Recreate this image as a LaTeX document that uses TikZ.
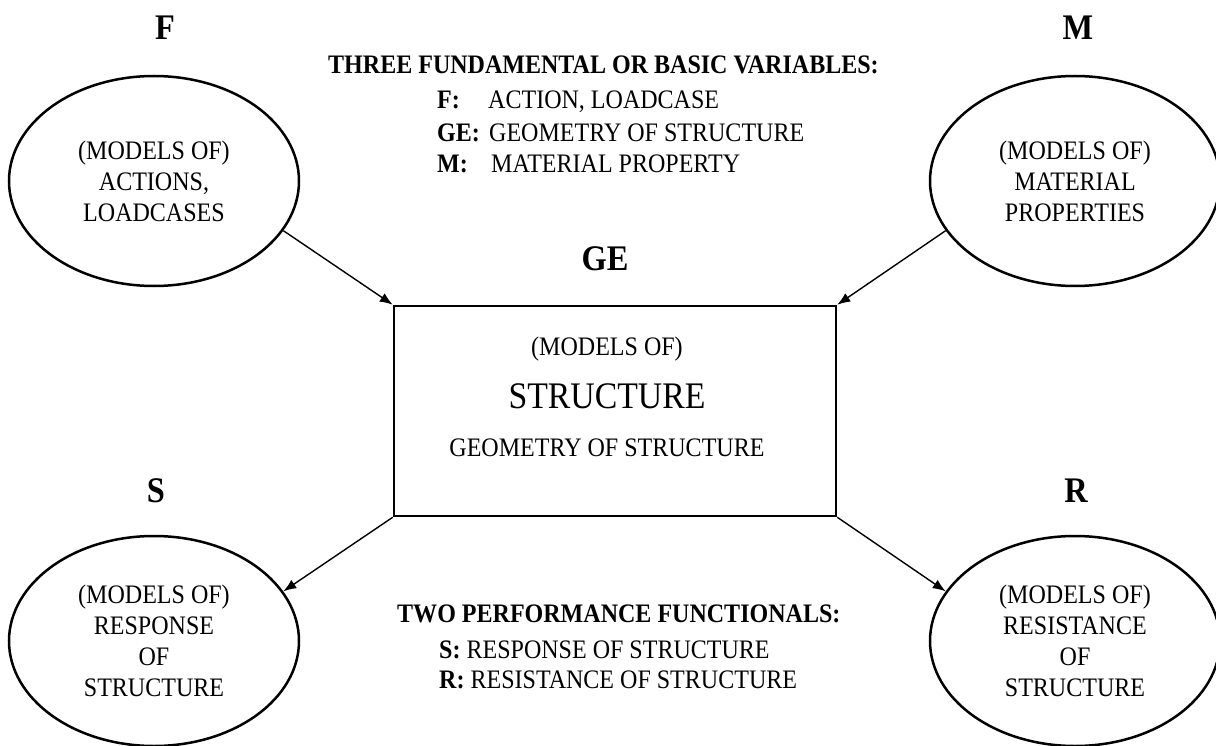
\documentclass[tikz,border=0pt]{standalone}
\usepackage{fontspec}
\setmainfont{Liberation Serif}[FakeStretch=0.9]
\usetikzlibrary{shapes.geometric,arrows.meta}
\begin{document}
\begin{tikzpicture}[x=1pt,y=-1pt,
  ell/.style={draw,ellipse,line width=2.5pt,minimum width=290pt,minimum height=210pt,inner sep=0pt,align=center,font=\fontsize{26.7}{31}\selectfont},
  boxst/.style={draw,rectangle,line width=2.5pt,minimum width=442pt,minimum height=210pt,inner sep=0pt},
  lab/.style={font=\fontsize{36}{40}\selectfont\bfseries,anchor=base,inner sep=0pt},
  txt/.style={font=\fontsize{26.7}{31}\selectfont,anchor=base west,inner sep=0pt},
  btxt/.style={font=\fontsize{26.7}{31}\selectfont\bfseries,anchor=base west,inner sep=0pt},
  ctxt/.style={font=\fontsize{26.7}{31}\selectfont,anchor=base,inner sep=0pt},
  arr/.style={-{Latex[length=13pt,width=10pt]},line width=1.4pt}
]
\useasboundingbox (0,0) rectangle (1216,746);

% ellipses
\node[ell] (F) at (154,181) {(MODELS OF)\\ACTIONS,\\LOADCASES};
\node[ell] (M) at (1075,181) {(MODELS OF)\\MATERIAL\\PROPERTIES};
\node[ell] (S) at (154,641) {(MODELS OF)\\RESPONSE\\OF\\STRUCTURE};
\node[ell] (R) at (1075,641) {(MODELS OF)\\RESISTANCE\\OF\\STRUCTURE};

% central box
\node[boxst] (box) at (615,411) {};
\node[ctxt] (b1) at (607,355) {(MODELS OF)};
\node[ctxt,font=\fontsize{37.5}{40}\selectfont] (b2) at (607,408) {STRUCTURE};
\node[ctxt] (b3) at (607,456) {GEOMETRY OF STRUCTURE};

% big labels
\node[lab] (lF) at (165,40) {F};
\node[lab] (lM) at (1078,40) {M};
\node[lab] (lGE) at (605,271) {GE};
\node[lab] (lS) at (156,502) {S};
\node[lab] (lR) at (1076,502) {R};

% top legend
\node[btxt] (t0) at (328,74) {THREE FUNDAMENTAL OR BASIC VARIABLES:};
\node[btxt] (t1k) at (437,109) {F:};
\node[txt] (t1) at (488,109) {ACTION, LOADCASE};
\node[btxt] (t2k) at (437,142) {GE:};
\node[txt] (t2) at (489,142) {GEOMETRY OF STRUCTURE};
\node[btxt] (t3k) at (437,173) {M:};
\node[txt] (t3) at (491,173) {MATERIAL PROPERTY};

% bottom legend
\node[btxt] (u0) at (397,622) {TWO PERFORMANCE FUNCTIONALS:};
\node[txt] (u1) at (439,658) {\textbf{S:} RESPONSE OF STRUCTURE};
\node[txt] (u2) at (439,688) {\textbf{R:} RESISTANCE OF STRUCTURE};

% arrows
\draw[arr] (F.-21) -- (box.north west);
\draw[arr] (M.201) -- (box.north east);
\draw[arr] (box.south west) -- (S.21);
\draw[arr] (box.south east) -- (R.159);
\end{tikzpicture}
\end{document}
